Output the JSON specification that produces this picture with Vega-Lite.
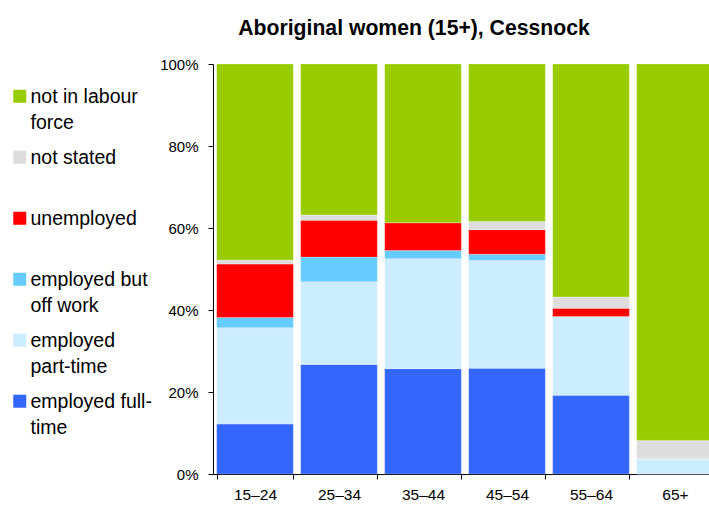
{
  "$schema": "https://vega.github.io/schema/vega-lite/v6.json",
  "width": 496,
  "height": 410,
  "autosize": "none",
  "padding": {"left": 213, "top": 64, "right": 0, "bottom": 32},
  "background": "white",
  "title": {
    "text": "Aboriginal women (15+), Cessnock",
    "font": "Liberation Sans",
    "fontSize": 21.2,
    "fontWeight": "bold",
    "color": "black",
    "anchor": "middle",
    "frame": "group",
    "dx": -47,
    "offset": 1.3,
    "baseline": "alphabetic"
  },
  "config": {"view": {"stroke": null}, "style": {"guide-label": {"lineHeight": 26}}},
  "data": {
    "values": [
      {"age": "15–24", "status": "employed full-time", "pct": 12.2},
      {"age": "15–24", "status": "employed part-time", "pct": 23.5},
      {"age": "15–24", "status": "employed but off work", "pct": 2.5},
      {"age": "15–24", "status": "unemployed", "pct": 13.0},
      {"age": "15–24", "status": "not stated", "pct": 1.0},
      {"age": "15–24", "status": "not in labour force", "pct": 47.8},
      {"age": "25–34", "status": "employed full-time", "pct": 26.7},
      {"age": "25–34", "status": "employed part-time", "pct": 20.2},
      {"age": "25–34", "status": "employed but off work", "pct": 6.0},
      {"age": "25–34", "status": "unemployed", "pct": 9.0},
      {"age": "25–34", "status": "not stated", "pct": 1.3},
      {"age": "25–34", "status": "not in labour force", "pct": 36.8},
      {"age": "35–44", "status": "employed full-time", "pct": 25.7},
      {"age": "35–44", "status": "employed part-time", "pct": 26.8},
      {"age": "35–44", "status": "employed but off work", "pct": 2.0},
      {"age": "35–44", "status": "unemployed", "pct": 6.8},
      {"age": "35–44", "status": "not stated", "pct": 0},
      {"age": "35–44", "status": "not in labour force", "pct": 38.7},
      {"age": "45–54", "status": "employed full-time", "pct": 25.8},
      {"age": "45–54", "status": "employed part-time", "pct": 26.3},
      {"age": "45–54", "status": "employed but off work", "pct": 1.5},
      {"age": "45–54", "status": "unemployed", "pct": 6.0},
      {"age": "45–54", "status": "not stated", "pct": 2.0},
      {"age": "45–54", "status": "not in labour force", "pct": 38.4},
      {"age": "55–64", "status": "employed full-time", "pct": 19.2},
      {"age": "55–64", "status": "employed part-time", "pct": 19.2},
      {"age": "55–64", "status": "employed but off work", "pct": 0},
      {"age": "55–64", "status": "unemployed", "pct": 2.0},
      {"age": "55–64", "status": "not stated", "pct": 2.8},
      {"age": "55–64", "status": "not in labour force", "pct": 56.8},
      {"age": "65+", "status": "employed full-time", "pct": 0},
      {"age": "65+", "status": "employed part-time", "pct": 3.7},
      {"age": "65+", "status": "employed but off work", "pct": 0},
      {"age": "65+", "status": "unemployed", "pct": 0},
      {"age": "65+", "status": "not stated", "pct": 4.5},
      {"age": "65+", "status": "not in labour force", "pct": 91.8}
    ]
  },
  "transform": [
    {"calculate": "indexof(['employed full-time','employed part-time','employed but off work','unemployed','not stated','not in labour force'], datum.status)", "as": "stackOrder"}
  ],
  "mark": {"type": "bar", "stroke": "#ffffff", "strokeWidth": 0.5, "strokeOpacity": 0.5},
  "encoding": {
    "x": {
      "field": "age",
      "type": "nominal",
      "sort": ["15–24", "25–34", "35–44", "45–54", "55–64", "65+"],
      "scale": {"range": [0, 504], "paddingInner": 0.087, "paddingOuter": 0.0435},
      "axis": {
        "title": null,
        "labelAngle": 0,
        "tickBand": "extent",
        "tickSize": 5,
        "tickColor": "black",
        "domainColor": "black",
        "labelFont": "Liberation Sans",
        "labelFontSize": 15.5,
        "labelColor": "black",
        "labelPadding": 8
      }
    },
    "y": {
      "field": "pct",
      "type": "quantitative",
      "stack": "zero",
      "scale": {"domain": [0, 100], "nice": false},
      "axis": {
        "title": null,
        "values": [0, 20, 40, 60, 80, 100],
        "labelExpr": "datum.value + '%'",
        "grid": false,
        "tickSize": 5,
        "tickColor": "black",
        "domainColor": "black",
        "labelFont": "Liberation Sans",
        "labelFontSize": 15,
        "labelColor": "black",
        "labelPadding": 10
      }
    },
    "order": {"field": "stackOrder", "type": "quantitative", "sort": "ascending"},
    "color": {
      "field": "status",
      "type": "nominal",
      "scale": {
        "domain": ["not in labour force", "not stated", "unemployed", "employed but off work", "employed part-time", "employed full-time"],
        "range": ["#99CC00", "#DDDDDD", "#FF0000", "#66CCFF", "#CCECFF", "#3366FF"]
      },
      "legend": {
        "title": null,
        "orient": "none",
        "legendX": -203,
        "legendY": 9,
        "padding": 0,
        "symbolType": "M-1,-2.077H1V-0.077H-1Z",
        "symbolSize": 169,
        "symbolStrokeWidth": 0,
        "labelFont": "Liberation Sans",
        "labelFontSize": 19.5,
        "labelColor": "black",
        "labelOffset": 1,
        "labelLimit": 200,
        "labelBaseline": "alphabetic",
        "clipHeight": 60.7,
        "rowPadding": 0,
        "labelExpr": "datum.label == 'not in labour force' ? ['not in labour', 'force'] : datum.label == 'employed but off work' ? ['employed but', 'off work'] : datum.label == 'employed part-time' ? ['employed', 'part-time'] : datum.label == 'employed full-time' ? ['employed full-', 'time'] : datum.label"
      }
    }
  }
}
